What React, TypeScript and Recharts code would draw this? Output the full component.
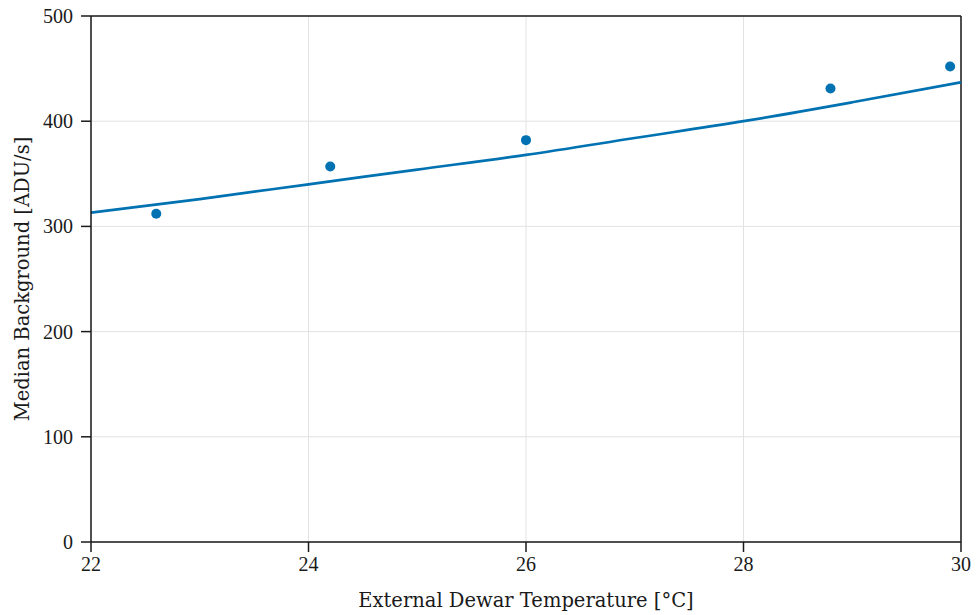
import {
  ComposedChart,
  Line,
  Scatter,
  XAxis,
  YAxis,
  CartesianGrid,
  ReferenceLine,
  Label,
} from "recharts";

// measured points
const tempC = [22.6, 24.2, 26.0, 28.8, 29.9];
const medianBg = [312, 357, 382, 431, 452];

// fitted curve
const fitTemp = [22, 23, 24, 25, 26, 27, 28, 29, 30];
const fitBg = [313, 326, 340, 354, 368, 384, 400, 418, 437];

const xTicks = [22, 24, 26, 28, 30];
const yTicks = [0, 100, 200, 300, 400, 500];

const BLUE = "#0072B2";
const INK = "#1a1a1a";
const TICK_FONT = "'Liberation Serif', serif";
const LABEL_FONT = "'DejaVu Serif', serif";

const points = tempC.map((t, i) => ({ t, bg: medianBg[i] }));
const fit = fitTemp.map((t, i) => ({ t, bg: fitBg[i] }));

const XTick = (p: any) => (
  <text
    x={p.x}
    y={p.y + 17}
    textAnchor="middle"
    fill={INK}
    fontSize={20}
    style={{ fontFamily: TICK_FONT }}
  >
    {p.payload.value}
  </text>
);

const YTick = (p: any) => (
  <text
    x={p.x - 6}
    y={p.y + 7}
    textAnchor="end"
    fill={INK}
    fontSize={20}
    style={{ fontFamily: TICK_FONT }}
  >
    {p.payload.value}
  </text>
);

export default function App() {
  return (
    <div
      style={{
        position: "absolute",
        left: 0,
        top: 0,
        background: "#fff",
        fontFamily: TICK_FONT,
      }}
    >
      <ComposedChart
        width={977}
        height={615}
        margin={{ top: 16, right: 16, bottom: 33, left: 31 }}
      >
        <CartesianGrid stroke="#e2e2e2" strokeWidth={1} />
        <XAxis
          dataKey="t"
          type="number"
          domain={[22, 30]}
          ticks={xTicks}
          allowDataOverflow
          height={40}
          stroke={INK}
          strokeWidth={1.5}
          tickSize={10}
          tick={XTick}
        >
          <Label
            content={(props: any) => {
              const vb = props.viewBox;
              return (
                <text
                  x={vb.x + vb.width / 2}
                  y={607}
                  textAnchor="middle"
                  fill={INK}
                  fontSize={19.5}
                  style={{ fontFamily: LABEL_FONT }}
                >
                  External Dewar Temperature [°C]
                </text>
              );
            }}
          />
        </XAxis>
        <YAxis
          dataKey="bg"
          type="number"
          domain={[0, 500]}
          ticks={yTicks}
          width={60}
          stroke={INK}
          strokeWidth={1.5}
          tickSize={10}
          tick={YTick}
        >
          <Label
            content={(props: any) => {
              const vb = props.viewBox;
              const x = 29;
              const y = vb.y + vb.height / 2;
              return (
                <text
                  x={x}
                  y={y}
                  transform={`rotate(-90, ${x}, ${y})`}
                  textAnchor="middle"
                  fill={INK}
                  fontSize={19.5}
                  style={{ fontFamily: LABEL_FONT }}
                >
                  Median Background [ADU/s]
                </text>
              );
            }}
          />
        </YAxis>
        <ReferenceLine y={500} stroke={INK} strokeWidth={1.5} />
        <ReferenceLine x={30} stroke={INK} strokeWidth={1.5} />
        <Line
          data={fit}
          dataKey="bg"
          type="monotone"
          stroke={BLUE}
          strokeWidth={2.7}
          dot={false}
          isAnimationActive={false}
        />
        <Scatter
          data={points}
          dataKey="bg"
          fill={BLUE}
          shape={(p: any) => <circle cx={p.cx} cy={p.cy} r={5} fill={BLUE} />}
          isAnimationActive={false}
        />
      </ComposedChart>
    </div>
  );
}
